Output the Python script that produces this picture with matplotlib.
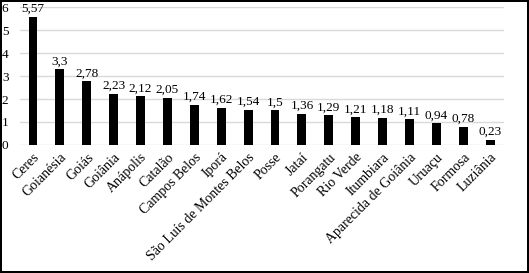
import matplotlib
matplotlib.use("Agg")
import matplotlib.pyplot as plt

# municipalities and their values
cities = ["Ceres", "Goianésia", "Goiás", "Goiânia", "Anápolis", "Catalão",
          "Campos Belos", "Iporá", "São Luís de Montes Belos", "Posse", "Jataí",
          "Porangatu", "Rio Verde", "Itumbiara", "Aparecida de Goiânia",
          "Uruaçu", "Formosa", "Luziânia"]
values = [5.57, 3.3, 2.78, 2.23, 2.12, 2.05, 1.74, 1.62, 1.54, 1.5, 1.36,
          1.29, 1.21, 1.18, 1.11, 0.94, 0.78, 0.23]
yticks = [0, 1, 2, 3, 4, 5, 6]

plt.rcParams['font.family'] = ['Liberation Serif', 'DejaVu Serif']

fig = plt.figure(figsize=(5.29, 2.73), dpi=100)
fig.patch.set_edgecolor('black')
fig.patch.set_linewidth(1.5)
ax = fig.add_axes([0.037, 0.469, 0.915, 0.505])

x = list(range(len(cities)))
bars = ax.bar(x, values, width=0.33, color='black', zorder=3)

# value labels with decimal comma
for xi, v in zip(x, values):
    ax.text(xi, v + 0.08, ('%g' % v).replace('.', ','), ha='center', va='bottom',
            fontsize=9.5)

ax.set_xlim(-0.5, len(cities) - 0.5)
ax.set_ylim(0, 6)
ax.set_yticks(yticks)
ax.set_yticklabels([str(t) for t in yticks], fontsize=9.5)
ax.set_xticks(x)
ax.set_xticklabels(cities, rotation=45, ha='right', rotation_mode='anchor', fontsize=10)
ax.tick_params(axis='both', length=0)
ax.tick_params(axis='y', pad=8)
ax.tick_params(axis='x', pad=4)
ax.grid(axis='y', color='#d9d9d9', linewidth=1, zorder=0)
for s in ax.spines.values():
    s.set_visible(False)

fig.savefig("out.png", dpi=100)
